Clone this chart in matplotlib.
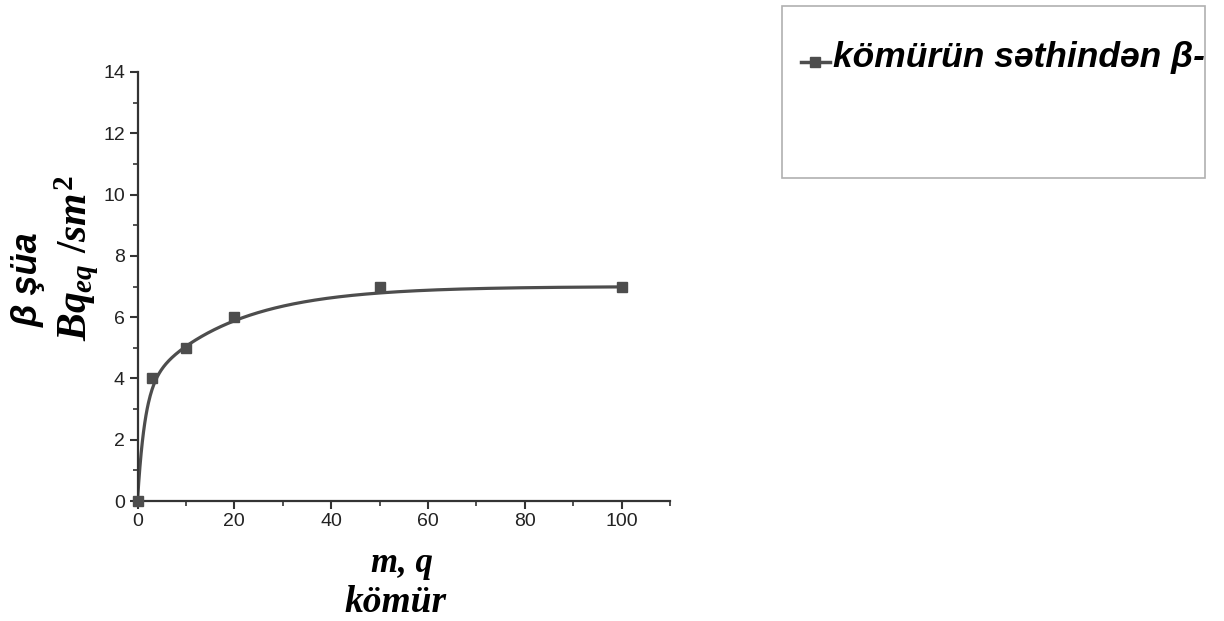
import numpy as np
import matplotlib
matplotlib.use("Agg")
import matplotlib.pyplot as plt
from matplotlib.patches import Rectangle
from matplotlib.lines import Line2D

# Data
mass_g = [0, 3, 10, 20, 50, 100]
beta_bq = [0, 4, 5, 6, 7, 7]
x_ticks = [0, 20, 40, 60, 80, 100]
y_ticks = [0, 2, 4, 6, 8, 10, 12, 14]
legend_label = "kömürün səthindən β-"
ylabel_1 = "β şüa"
ylabel_2 = r"$Bq_{eq}\ /sm^{2}$"
xlabel_1 = "m, q"
xlabel_2 = "kömür"
# fitted curve (two-term exponential association): A1, t1, A2, t2
fit_params = [3.6, 1.5, 3.4, 18.0]

plt.rcParams['mathtext.fontset'] = 'custom'
plt.rcParams['mathtext.it'] = 'Liberation Serif:italic:bold'
plt.rcParams['mathtext.rm'] = 'Liberation Serif:bold'
plt.rcParams['mathtext.bf'] = 'Liberation Serif:bold:italic'

COL = '#4d4d4d'
AX = '#333333'

A1, t1, A2, t2 = fit_params
xf = np.linspace(0, max(mass_g), 800)
yf = A1 * (1 - np.exp(-xf / t1)) + A2 * (1 - np.exp(-xf / t2))

W, H = 1224, 621
fig = plt.figure(figsize=(W / 100, H / 100), dpi=100)
ax = fig.add_axes([137.5 / W, 1 - 501 / H, (670 - 137.5) / W, (501 - 72) / H])
ax.plot(xf, yf, color=COL, lw=2.3, zorder=2)
ax.plot(mass_g, beta_bq, linestyle='none', marker='s', ms=7, color=COL, zorder=3, clip_on=False)

ax.set_xlim(0, 110)
ax.set_ylim(0, 14)
ax.set_xticks(x_ticks)
ax.set_yticks(y_ticks)
ax.set_xticks(np.arange(10, 111, 20), minor=True)
ax.set_yticks(np.arange(1, 14, 2), minor=True)
for s in ['top', 'right']:
    ax.spines[s].set_visible(False)
for s in ['left', 'bottom']:
    ax.spines[s].set_linewidth(1.6)
    ax.spines[s].set_color(AX)
ax.tick_params(which='major', length=6, width=1.5, color=AX, direction='out',
               labelsize=14, labelcolor='#222222', pad=3)
ax.tick_params(which='minor', length=3.5, width=1.2, color=AX, direction='out')
for lab in ax.get_xticklabels() + ax.get_yticklabels():
    lab.set_fontfamily('Liberation Sans')

# Axis labels
fig.text(28 / W, 1 - 280 / H, ylabel_1, rotation=90, ha='center', va='center',
         fontsize=26, fontweight='bold', fontstyle='italic', family='Liberation Sans')
fig.text(77 / W, 1 - 258 / H, ylabel_2, rotation=90, ha='center', va='center',
         fontsize=30)
fig.text(402 / W, 1 - 563 / H, xlabel_1, ha='center', va='center',
         fontsize=25, fontweight='bold', fontstyle='italic', family='Liberation Serif')
fig.text(396 / W, 1 - 603 / H, xlabel_2, ha='center', va='center',
         fontsize=27, fontweight='bold', fontstyle='italic', family='Liberation Serif')

# Legend box
rect = Rectangle((782 / W, 1 - 178 / H), (1205 - 782) / W, (178 - 6) / H,
                 transform=fig.transFigure, facecolor='white', edgecolor='#b0b0b0', lw=1.2)
fig.add_artist(rect)
fig.add_artist(Line2D([801 / W, 830 / W], [1 - 62 / H, 1 - 62 / H],
                      transform=fig.transFigure, color=COL, lw=2.5))
fig.add_artist(Line2D([815 / W], [1 - 62 / H], transform=fig.transFigure,
                      color=COL, marker='s', ms=6.5, linestyle='none'))
t = fig.text(833 / W, 1 - 67 / H, legend_label, ha='left', va='baseline',
             fontsize=25.5, fontweight='bold', fontstyle='italic', family='Liberation Sans')
t.set_clip_path(rect)

fig.savefig('out.png', dpi=100)
